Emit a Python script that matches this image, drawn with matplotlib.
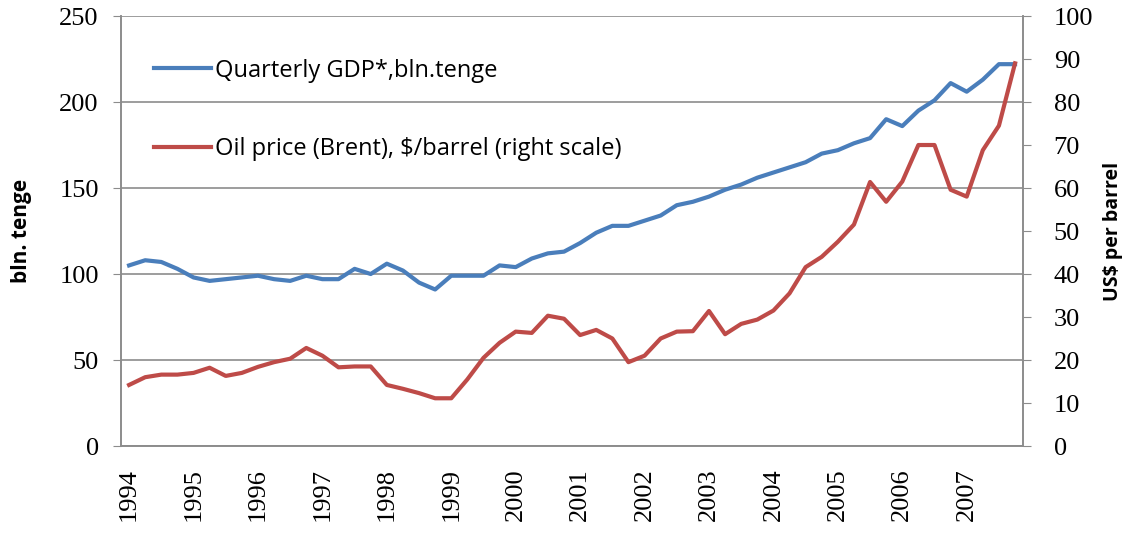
import matplotlib
matplotlib.use("Agg")
import matplotlib.pyplot as plt
import numpy as np

years = [str(y) for y in range(1994, 2008)]
quarters = [f"{y}Q{q}" for y in range(1994, 2008) for q in range(1, 5)]

gdp = [105, 108, 107, 103,
       98, 96, 97, 98,
       99, 97, 96, 99,
       97, 97, 103, 100,
       106, 102, 95, 91,
       99, 99, 99, 105,
       104, 109, 112, 113,
       118, 124, 128, 128,
       131, 134, 140, 142,
       145, 149, 152, 156,
       159, 162, 165, 170,
       172, 176, 179, 190,
       186, 195, 201, 211,
       206, 213, 222, 222]

oil = [14.2, 16.0, 16.6, 16.6,
       17.0, 18.2, 16.3, 17.0,
       18.4, 19.5, 20.3, 22.8,
       21.0, 18.3, 18.5, 18.5,
       14.2, 13.3, 12.3, 11.1,
       11.1, 15.5, 20.5, 24.0,
       26.6, 26.3, 30.3, 29.6,
       25.8, 27.0, 25.0, 19.5,
       21.0, 25.0, 26.6, 26.7,
       31.4, 26.0, 28.4, 29.4,
       31.5, 35.5, 41.6, 44.0,
       47.5, 51.5, 61.4, 56.8,
       61.5, 70.0, 70.0, 59.6,
       58.0, 68.8, 74.5, 89.0]

gdp_label = "Quarterly GDP*,bln.tenge"
oil_label = "Oil price (Brent), $/barrel (right scale)"

blue = "#4A7EBB"
red = "#BE4B48"
grid_c = "#8C8C8C"

fig = plt.figure(figsize=(11.28, 5.41), dpi=100)
ax = fig.add_axes([0.1073, 0.1756, 0.7997, 0.7948])
ax2 = ax.twinx()

x = np.arange(len(quarters))
l1, = ax.plot(x, gdp, color=blue, lw=3.0, solid_joinstyle="round", zorder=3)
l2, = ax2.plot(x, oil, color=red, lw=3.0, solid_joinstyle="round", zorder=3)

ax.set_xlim(-0.5, len(quarters) - 0.5)
ax.set_ylim(0, 250)
ax2.set_ylim(0, 100)
ax.set_yticks(np.arange(0, 251, 50))
ax2.set_yticks(np.arange(0, 101, 10))
ax.set_xticks(x[::4])
ax.set_xticklabels(years, rotation=90, fontfamily="Liberation Serif", fontsize=19)
ax.tick_params(axis="x", length=0, pad=16)
ax.tick_params(axis="y", length=6, color=grid_c, labelsize=19, pad=10)
ax2.tick_params(axis="y", length=6, color=grid_c, labelsize=19, pad=16)
for lab in ax.get_yticklabels() + ax2.get_yticklabels():
    lab.set_fontfamily("Liberation Serif")

ax.yaxis.grid(True, color=grid_c, lw=1.2)
ax.set_axisbelow(True)

for a in (ax, ax2):
    a.spines["top"].set_visible(False)
    for s in ("left", "right", "bottom"):
        a.spines[s].set_color(grid_c)
        a.spines[s].set_linewidth(1.2)

ax.set_ylabel("bln. tenge", fontfamily="Open Sans", fontweight="bold", fontsize=15, labelpad=20)
ax2.set_ylabel("US$ per barrel", fontfamily="Open Sans", fontweight="bold", fontsize=14, labelpad=7)

leg = ax.legend([l1, l2], [gdp_label, oil_label], loc="upper left",
                bbox_to_anchor=(0.013, 0.95), frameon=False,
                prop={"family": "Open Sans", "size": 17},
                handlelength=2.4, handletextpad=0.2, labelspacing=2.3)

fig.savefig("out.png", dpi=100)
